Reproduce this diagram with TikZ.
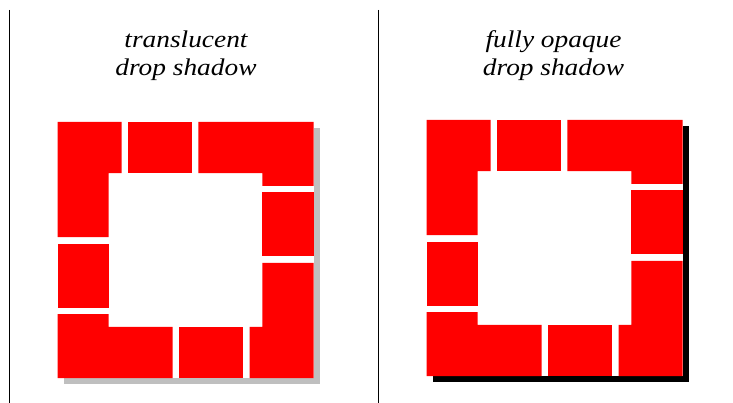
\documentclass[tikz,border=0pt]{standalone}
\usepackage{fontspec}
\newfontfamily\shadowfont{Liberation Serif}[FakeStretch=1.14]
\usetikzlibrary{positioning}

\tikzset{
  brick/.style={fill=red},
  caption/.style={font=\shadowfont\itshape\fontsize{24}{28.3}\selectfont,
                  align=center, inner sep=0pt},
  pics/brickring/.style={code={
      \fill[white] (0,0) rectangle (5,5);
      % corner pieces
      \fill[brick] (0,0) -- (1.25,0) -- (1.25,1) -- (1,1) -- (1,2.25) -- (0,2.25) -- cycle;
      \fill[brick] (2.75,0) -- (5,0) -- (5,1.25) -- (4,1.25) -- (4,1) -- (2.75,1) -- cycle;
      \fill[brick] (4,2.75) -- (5,2.75) -- (5,5) -- (3.75,5) -- (3.75,4) -- (4,4) -- cycle;
      \fill[brick] (0,3.75) -- (1,3.75) -- (1,4) -- (2.25,4) -- (2.25,5) -- (0,5) -- cycle;
      % middle pieces
      \fill[brick] (1.375,0) rectangle (2.625,1);
      \fill[brick] (4,1.375) rectangle (5,2.625);
      \fill[brick] (2.375,4) rectangle (3.625,5);
      \fill[brick] (0,2.375) rectangle (1,3.625);
  }}
}

\begin{document}
\begin{tikzpicture}[x=1pt, y=-1pt]
    \useasboundingbox (0,0) rectangle (733,403);
    \draw[line width=0.9pt] (9.5,10) -- (9.5,403);
    \draw[line width=0.9pt] (378.3,10) -- (378.3,403);

    \node[caption, anchor=north] (softcap) at (186,30.5) {translucent\\drop shadow};
    \node[caption, anchor=north] (hardcap) at (553.5,30.5) {fully opaque\\drop shadow};

    \begin{scope}[shift={(57.5,122)}, x=51.2pt, y=-51.2pt]
        \fill[black, opacity=0.25] (0.125,0.125) rectangle (5.125,5.125);
        \pic {brickring};
    \end{scope}
    \begin{scope}[shift={(426.5,120)}, x=51.2pt, y=-51.2pt]
        \fill[black] (0.125,0.125) rectangle (5.125,5.125);
        \pic {brickring};
    \end{scope}
\end{tikzpicture}
\end{document}
